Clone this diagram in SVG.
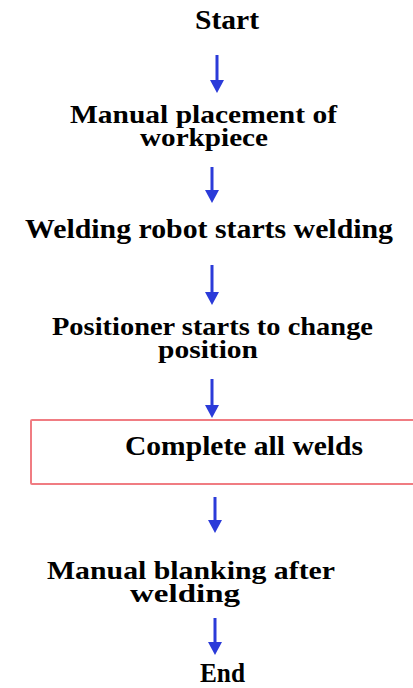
<svg xmlns="http://www.w3.org/2000/svg" width="413" height="688" viewBox="0 0 413 688">
<style>
.t{font-family:"Liberation Serif","Times New Roman",serif;font-weight:bold;font-size:27px;fill:#000;text-anchor:middle}
.t2{font-size:25px}
.c{stroke:#2b3bd9;stroke-width:3;fill:none;marker-end:url(#ah)}
.box{fill:#fff;stroke:#f07c82;stroke-width:2}
</style>
<defs>
<marker id="ah" markerUnits="userSpaceOnUse" markerWidth="14" markerHeight="14" refX="5" refY="7" orient="auto">
<path d="M0,0 L13,7 L0,14 z" fill="#2b3bd9"/>
</marker>
</defs>
<rect width="413" height="688" fill="#fff"/>
<g id="connectors">
<line class="c" x1="217" y1="55" x2="217" y2="85"/>
<line class="c" x1="212" y1="167" x2="212" y2="195"/>
<line class="c" x1="212" y1="265" x2="212" y2="297"/>
<line class="c" x1="212" y1="379" x2="212" y2="410"/>
<line class="c" x1="215" y1="497" x2="215" y2="525"/>
<line class="c" x1="215" y1="618" x2="215" y2="647"/>
</g>
<g id="start"><text class="t" x="227" y="29" textLength="64" lengthAdjust="spacingAndGlyphs">Start</text></g>
<g id="manual-placement">
<text class="t t2"><tspan x="203.5" y="123" textLength="267" lengthAdjust="spacingAndGlyphs">Manual placement of</tspan><tspan x="204" y="146" textLength="128" lengthAdjust="spacingAndGlyphs">workpiece</tspan></text>
</g>
<g id="robot-welding"><text class="t" x="209" y="238" textLength="368" lengthAdjust="spacingAndGlyphs">Welding robot starts welding</text></g>
<g id="positioner">
<text class="t t2"><tspan x="212.5" y="335" textLength="321" lengthAdjust="spacingAndGlyphs">Positioner starts to change</tspan><tspan x="208" y="358" textLength="100" lengthAdjust="spacingAndGlyphs">position</tspan></text>
</g>
<g id="complete-welds">
<rect class="box" x="31" y="420" width="386" height="64" rx="1"/>
<text class="t" x="244" y="455" textLength="238" lengthAdjust="spacingAndGlyphs">Complete all welds</text>
</g>
<g id="manual-blanking">
<text class="t t2"><tspan x="191" y="579" textLength="288" lengthAdjust="spacingAndGlyphs">Manual blanking after</tspan><tspan x="185" y="602" textLength="110" lengthAdjust="spacingAndGlyphs">welding</tspan></text>
</g>
<g id="end"><text class="t" x="222.5" y="682" textLength="45" lengthAdjust="spacingAndGlyphs">End</text></g>
</svg>
